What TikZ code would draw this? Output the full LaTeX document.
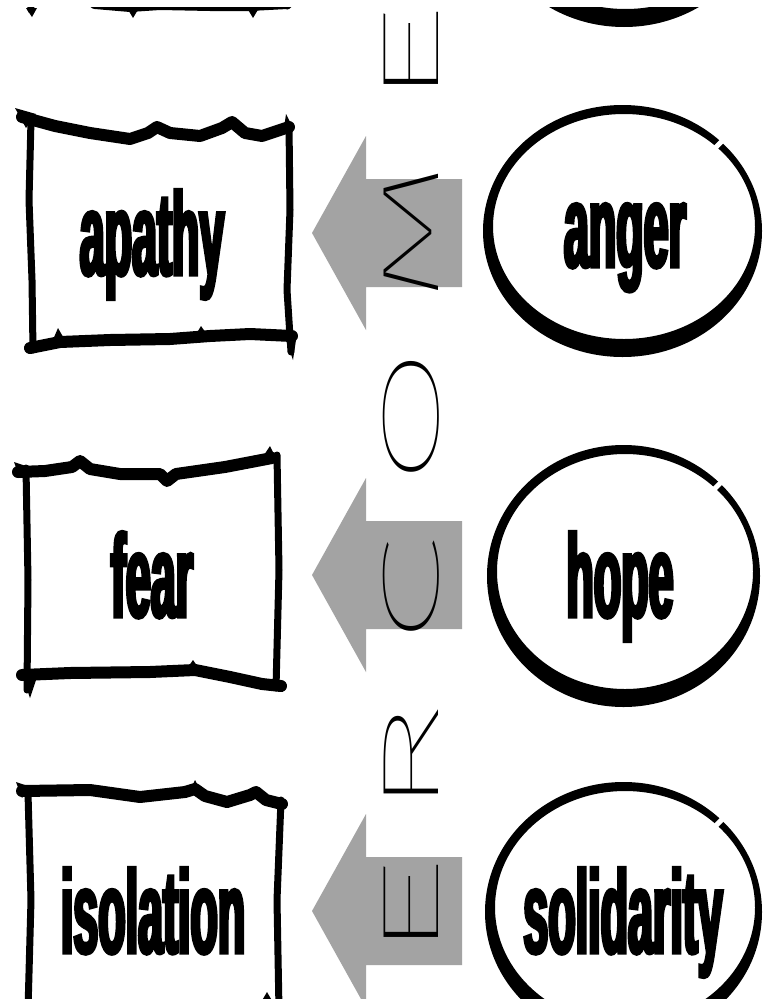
\documentclass[tikz,border=0pt]{standalone}
\usepackage{fontspec}
\usepackage{graphicx}
\usetikzlibrary{calc}
\IfFontExistsTF{Fira Sans Thin}{\newfontfamily\thinf{Fira Sans Thin}}{%
  \IfFontExistsTF{DejaVu Sans ExtraLight}{\newfontfamily\thinf{DejaVu Sans ExtraLight}}{\newfontfamily\thinf{Liberation Sans}}}
\newfontfamily\wordf[FakeStretch=0.38,FakeBold=2.8]{Liberation Sans Bold}
\definecolor{arrowgray}{HTML}{A3A3A3}
\newcommand\inkring[4]{% cx, cy, rx, ry
  \fill[even odd rule] (#1,#2) ellipse [x radius=#3, y radius=#4]
       (#1+1.5,#2-4.5) ellipse [x radius=#3-8.5, y radius=#4-13.5];
  \draw[white, line width=5pt] ({#1+(#3-20)*cos(45)},{#2-(#4-20)*sin(45)}) -- ({#1+(#3+10)*cos(45)},{#2-(#4+10)*sin(45)});
}
\newcommand\fatarrow[2]{%
  \fill[bigarrow] ($(#1)+(0,-54)$) -- ($(#2)+(54,-54)$) -- ($(#2)+(54,-97)$) -- (#2)
     -- ($(#2)+(54,97)$) -- ($(#2)+(54,54)$) -- ($(#1)+(0,54)$) -- cycle;}
\tikzset{
  word/.style={font={\wordf\fontsize{118}{118}\selectfont}, inner sep=0pt, anchor=base},
  letter/.style={font={\thinf\fontsize{80}{80}\selectfont}, inner sep=0pt, rotate=90},
  frameline/.style={line width=12pt, line join=round, line cap=round},
  sideline/.style={line width=7pt, line join=round, line cap=round},
  bigarrow/.style={fill=arrowgray},
}
\begin{document}
\begin{tikzpicture}[x=1pt,y=-1pt]
\useasboundingbox (0,0) rectangle (764,999);
\fill[white] (0,0) rectangle (764,999);

% arrows (connectors from ellipses to boxes)
\coordinate (s1) at (462,233); \coordinate (t1) at (312,233);
\coordinate (s2) at (462,575); \coordinate (t2) at (312,575);
\coordinate (s3) at (462,911); \coordinate (t3) at (312,911);
\fatarrow{s1}{t1}
\fatarrow{s2}{t2}
\fatarrow{s3}{t3}

% vertical thin lettering
\node[letter] (L6) at (411,57)  {\scalebox{2.75}[1]{E}};
\node[letter] (L5) at (411,232) {\scalebox{2.4}[1]{M}};
\node[letter] (L4) at (411,417) {\scalebox{2.6}[1]{O}};
\node[letter] (L3) at (411,592) {\scalebox{2.6}[1]{C}};
\node[letter] (L2) at (411,760) {\scalebox{2.6}[1]{R}};
\node[letter] (L1) at (411,910) {\scalebox{2.75}[1]{E}};

% rough frame 0 (cut at top)
\draw[frameline] (95,3) -- (130,6) -- (160,4) -- (210,5) -- (250,5) -- (287,3);
\draw[sideline] (30,-5) -- (31,10);
\draw[sideline] (287,-5) -- (287,6);
\fill (127,8) -- (133,18) -- (139,8) -- cycle;
\fill (247,8) -- (253,18) -- (259,8) -- cycle;
\fill (26,8) -- (32,17) -- (37,8) -- cycle;

% rough frame 1
\draw[frameline] (22,117) -- (55,126) -- (90,133) -- (130,139) -- (148,133) -- (157,127) -- (170,133) -- (200,136) -- (222,128) -- (232,122) -- (245,133) -- (262,136) -- (289,127);
\draw[sideline] (31,120) -- (29,200) -- (32,280) -- (33,350);
\draw[sideline] (289,125) -- (290,210) -- (287,290) -- (291,352);
\draw[frameline] (30,348) -- (60,342) -- (110,340) -- (170,339) -- (210,336) -- (250,334) -- (292,336);
\fill (15,108) -- (36,114) -- (26,128) -- cycle;
\fill (52,342) -- (58,328) -- (66,342) -- cycle;
\fill (195,336) -- (201,326) -- (208,336) -- cycle;
\fill (284,128) -- (286,114) -- (293,128) -- cycle;
\fill (286,340) -- (293,360) -- (296,340) -- cycle;

% rough frame 2
\draw[frameline] (18,472) -- (45,471) -- (72,467) -- (80,461) -- (90,469) -- (120,474) -- (160,474) -- (167,481) -- (176,474) -- (225,467) -- (272,458);
\draw[sideline] (26,468) -- (28,580) -- (27,690);
\draw[sideline] (277,455) -- (279,570) -- (276,688);
\draw[frameline] (22,675) -- (70,673) -- (150,672) -- (195,670) -- (230,677) -- (262,684) -- (281,686);
\fill (14,462) -- (26,466) -- (20,478) -- cycle;
\fill (262,458) -- (270,446) -- (276,458) -- cycle;
\fill (24,680) -- (30,698) -- (36,680) -- cycle;
\fill (186,670) -- (193,660) -- (200,670) -- cycle;

% rough frame 3
\draw[frameline] (22,791) -- (90,790) -- (140,797) -- (185,792) -- (195,789) -- (205,796) -- (227,802) -- (250,795) -- (256,792) -- (266,800) -- (282,804);
\draw[sideline] (28,793) -- (31,900) -- (28,1010);
\draw[sideline] (281,800) -- (277,900) -- (279,1010);
\draw[frameline] (25,1012) -- (150,1010) -- (282,1007);
\fill (16,782) -- (28,786) -- (22,798) -- cycle;
\fill (190,791) -- (195,780) -- (201,791) -- cycle;
\fill (260,1004) -- (267,992) -- (274,1004) -- cycle;

% ink rings
\inkring{624}{-100}{139}{127}
\inkring{622.5}{231}{139.5}{126}
\inkring{623.5}{576}{136.5}{131}
\inkring{623.5}{912}{138.5}{130}

% words
\node[word] (r1) at (152,275) {apathy};
\node[word] (r2) at (152,617) {fear};
\node[word] (r3) at (153,953) {isolation};
\node[word] (e1) at (625,267) {anger};
\node[word] (e2) at (620,617) {hope};
\node[word] (e3) at (623,953) {solidarity};

\fill[white] (0,0) rectangle (764,7);
\end{tikzpicture}
\end{document}
